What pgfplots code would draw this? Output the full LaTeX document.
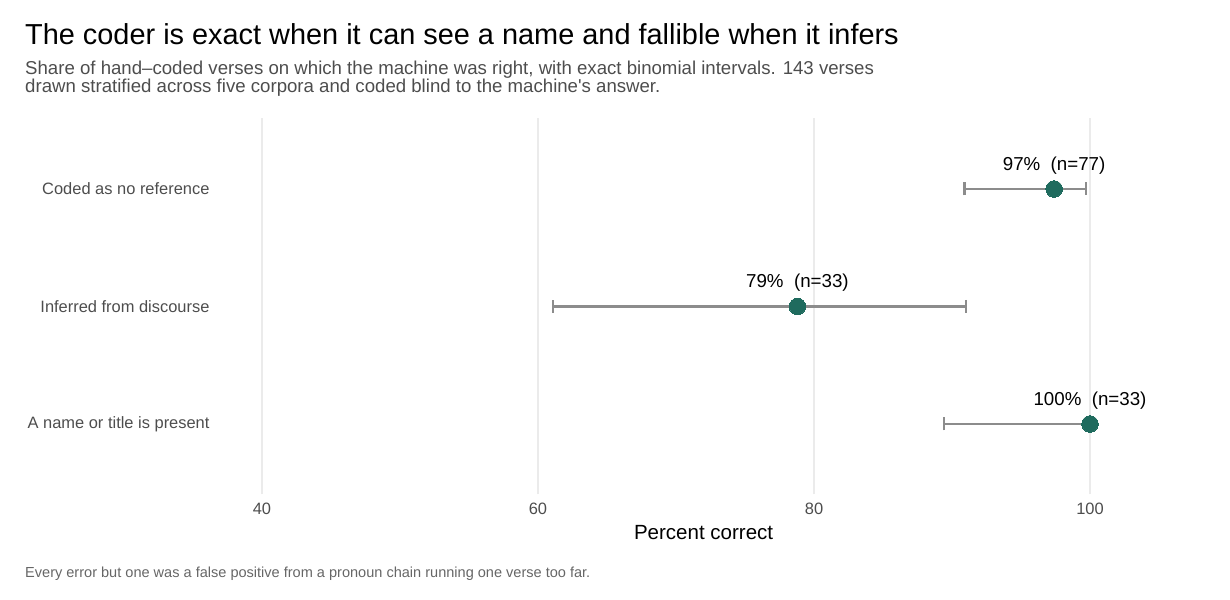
\documentclass[border=0pt]{standalone}
\usepackage{pgfplots}
\usepackage{pgfplotstable}
\pgfplotsset{compat=1.18}
\usepackage{fontspec}
\setmainfont{Liberation Sans}

\definecolor{ptc}{HTML}{1F6B5E}
\definecolor{ebc}{HTML}{8C8C8C}
\definecolor{gridc}{HTML}{EBEBEB}
\definecolor{subc}{HTML}{4D4D4D}
\definecolor{capc}{HTML}{666666}

% y = row, x = percent correct, lo/hi = exact binomial interval
\pgfplotstableread{
y  x     lo    hi    lab
3  97.4  90.9  99.7  {97\%\ \ (n=77)}
2  78.8  61.1  91.0  {79\%\ \ (n=33)}
1  100   89.4  100   {100\%\ \ (n=33)}
}\citable

\begin{document}
\begin{tikzpicture}[x=1bp,y=1bp]
% axis box has its lower left corner at the origin; page is 1230 x 600
\useasboundingbox (-220.6,-105.5) rectangle (1009.4,494.5);

\node[anchor=base west, inner sep=0] at (-195.6,450.2)
  {\fontsize{29}{33}\selectfont The coder is exact when it can see a name and fallible when it infers};
\node[anchor=base west, inner sep=0, text=subc] at (-195.6,420.2)
  {\fontsize{18.7}{21}\selectfont Share of hand–coded verses on which the machine was right, with exact binomial intervals. 143 verses};
\node[anchor=base west, inner sep=0, text=subc] at (-195.6,402.2)
  {\fontsize{18.7}{21}\selectfont drawn stratified across five corpora and coded blind to the machine\textquotesingle s answer.};
\node[anchor=base west, inner sep=0, text=capc] at (-195.6,-83.5)
  {\fontsize{14.6}{17}\selectfont Every error but one was a false positive from a pronoun chain running one verse too far.};

\begin{axis}[
    scale only axis, width=966bp, height=376bp,
    xmin=37, xmax=107, ymin=0.4, ymax=3.6,
    axis line style={draw=none},
    major tick length=0,
    /pgf/number format/assume math mode=true,
    xtick={40,60,80,100},
    ytick={1,2,3},
    yticklabels={A name or title is present,Inferred from discourse,Coded as no reference},
    xmajorgrids, ymajorgrids=false,
    major x grid style={draw=gridc, line width=1.5bp},
    ticklabel style={font=\fontsize{16.5}{19}\selectfont, text=subc},
    xticklabel style={yshift=-5bp},
    yticklabel style={xshift=-7.6bp},
    xlabel={Percent correct},
    xlabel style={at={(axis description cs:0.5,0)}, anchor=base, yshift=-45.5bp,
                  font=\fontsize{20.6}{24}\selectfont, text=black},
    clip=false,
]
\addplot[draw=none, mark=none,
    error bars/.cd, x dir=both, x explicit,
    error mark=|,
    error bar style={draw=ebc, line width=2.3bp},
    error mark options={draw=ebc, line width=2.3bp, mark size=6.5bp}]
  table[x=x, y=y,
        x error plus expr=\thisrow{hi}-\thisrow{x},
        x error minus expr=\thisrow{x}-\thisrow{lo}] {\citable};
\addplot[only marks, mark=*, mark size=8.3bp, mark options={fill=ptc, draw=ptc, line width=0pt},
    point meta=explicit symbolic,
    nodes near coords,
    nodes near coords style={anchor=base, yshift=18.6bp, font=\fontsize{18.8}{22}\selectfont, text=black}]
  table[x=x, y=y, meta=lab] {\citable};
\end{axis}
\end{tikzpicture}
\end{document}
